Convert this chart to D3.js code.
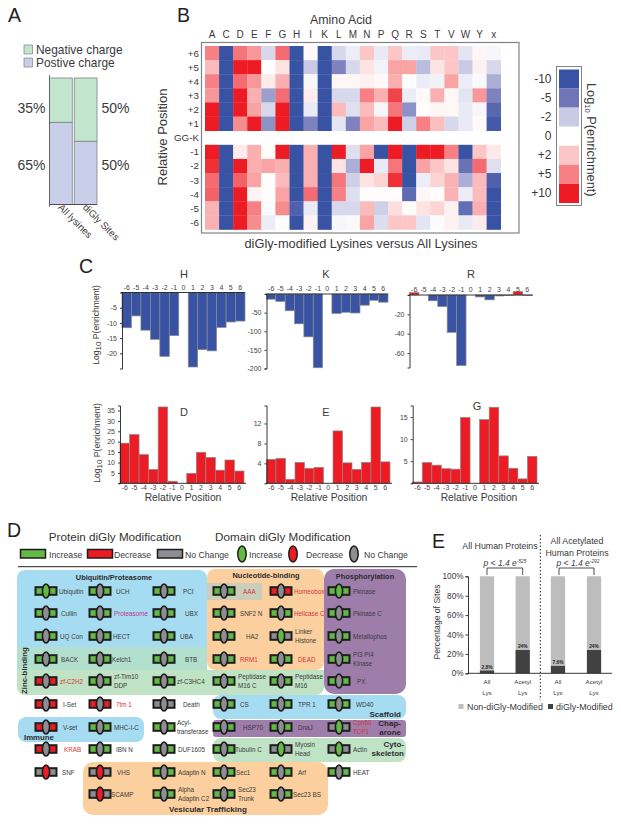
<!DOCTYPE html>
<html><head><meta charset="utf-8">
<script src="https://cdn.jsdelivr.net/npm/d3@7/dist/d3.min.js"></script>
<style>html,body{margin:0;padding:0;background:#fff}svg{display:block}text{font-family:"Liberation Sans",Arial,sans-serif;fill:#3a3a3c}</style>
</head><body><svg id="c" width="621" height="824"></svg>
<script>
// ---------- Panel A data
const chargeCategories = ["All lysines", "diGly Sites"];
const chargePositive = [65, 50];
const chargeNegative = [35, 50];
// ---------- Panel B data
const aminoAcids = ["A","C","D","E","F","G","H","I","K","L","M","N","P","Q","R","S","T","V","W","Y","x"];
const positions = ["+6","+5","+4","+3","+2","+1","GG-K","-1","-2","-3","-4","-5","-6"];
const rowP6 = [5,-10,5.5,4,-1.5,6,-10,.2,-10,-1.5,-.7,2,-.8,2,-.7,-.8,2,2,-1,.3,-.3];
const rowP5 = [2.5,-10,10,10,0,1,-10,-2,-10,-4.5,-1.5,1,-.5,3.5,3.5,-2.5,1,2,-2,.5,-1.5];
const rowP4 = [5,-10,6,4,.7,3,-10,-.3,-10,.3,.3,.5,.2,3,.1,-.7,-.5,3.5,-.7,-.2,-3];
const rowP3 = [4,-10,10,3,-3.5,6,-10,.7,-10,-1.5,-1.5,5,3,8,-.7,.2,3,.3,-1,4,-4.5];
const rowP2 = [10,-10,10,3.5,-1.5,10,-10,-.8,-10,2.5,-1.2,2.5,-.3,5.5,-4,.1,.3,.3,-.8,-.3,-7];
const rowP1 = [10,-10,4.5,10,-4,10,-10,-4.5,-10,-1,-4.5,3.5,2.5,10,-1.8,5,2.3,-1.5,-.8,.2,-9];
const rowM1 = [10,-10,.7,3,.1,10,-10,3,-10,10,-1.2,3.5,-10,10,-10,10,10,5,-10,2,.8];
const rowM2 = [9,-10,10,3,3.5,3,-10,3,-10,1,-3,10,-.8,5.5,-10,3.5,2,1,-5.5,6,-1.2];
const rowM3 = [6,-10,6.5,3.5,.1,2.5,-10,3,-10,5.5,-1.8,1,1.5,9,-10,-.7,1.5,2.8,-3,2.5,-8];
const rowM4 = [6.5,-10,10,.4,.1,3.5,-10,6,-10,5,-1.2,.1,.1,.1,-6.5,.3,.1,2.8,-.7,2.5,-10];
const rowM5 = [2.8,-10,10,5,-.2,4.5,-8,-.8,-10,-1.5,-1.5,2.5,-1.8,1.2,.1,1,1.5,.5,-6,3,-10];
const rowM6 = [3,-10,10,4.5,-.7,.1,-10,.5,-10,-.3,-.2,3.5,-1.3,2,2,-1,-.1,.5,-.8,.7,-10];
const heatRows = {"+6":rowP6,"+5":rowP5,"+4":rowP4,"+3":rowP3,"+2":rowP2,"+1":rowP1,"-1":rowM1,"-2":rowM2,"-3":rowM3,"-4":rowM4,"-5":rowM5,"-6":rowM6};
const scaleLabels = ["-10","-5","-2","0","+2","+5","+10"];
const scaleValues = [-10,-5,-2,0,2,5,10];
const scaleColors = ["#3953a4","#6f75b7","#c9cbe5","#ffffff","#fcc6c6","#f68084","#ed1c24"];
// ---------- Panel C data
const relPos = ["-6","-5","-4","-3","-2","-1","0","1","2","3","4","5","6"];
const histidine = [-11.6,-7.7,-12.4,-15.4,-21,-14.2,0,-24.5,-18.8,-19.2,-11.5,-9.7,-9.4];
const lysine = [-14,-20,-45,-80,-115,-198,0,-52,-49,-51,-30,-17,-22];
const arginine = [2.5,0,-6,-12,-38.6,-73,0,-2,-5,-1,-.5,3.5,-.5];
const aspartate = [19.3,23.4,13.8,6.7,36.7,1,0,4.8,14.9,12.4,6.3,11.2,5.9];
const glutamate = [4.8,5,.8,4.2,3,3.2,0,10.5,4.1,2.8,4.2,15.3,4.3];
const glycine = [.3,4.7,4.1,3.3,3.2,14.9,0,14.4,17.2,6.2,3.4,1,6.1];
// ---------- Panel D data
const domainNames = [
 ["Ubiquitin","UCH","PCI","AAA","Homeobox","Pkinase"],
 ["Cullin","Proteasome","UBX","SNF2 N","Helicase C","Pkinase C"],
 ["UQ Con","HECT","UBA","HA2","Linker\nHistone","Metallophos"],
 ["BACK","Kelch1","BTB","RRM1","DEAD","PI3 PI4\nKinase"],
 ["zf-C2H2","zf-Tim10\nDDP","zf-C3HC4","Peptidase\nM16 C","Peptidase\nM16","PX"],
 ["I-Set","7tm 1","Death","CS","TPR 1","WD40"],
 ["V-set","MHC-I-C","Acyl-\ntransferase","HSP70","DnaJ","Cpn60\nTCP1"],
 ["KRAB","IBN N","DUF1605","Tubulin C","Myosin\nHead","Actin"],
 ["SNF","VHS","Adaptin N","Sec1","Arf","HEAT"],
 ["","SCAMP","Alpha\nAdaptin C2","Sec23\nTrunk","Sec23 BS",""]];
const proteinChange = ["iiiidi","iiiiii","iiiini","iiiiii","diiiii","ddniii","diiiin","diiinn","nniiii","-niii-"];
const domainChange  = ["innnni","nnnnnn","nnnnin","nnnnnn","nnnnnn","nnnnnn","nnnnni","nnnnii","ddnnnn","-dnnn-"];
const accentLabels = ["AAA","Homeobox","Helicase C","RRM1","DEAD","zf-C2H2","7tm 1","KRAB","Cpn60\nTCP1","Proteasome"];
// ---------- Panel E data
const lysGroups = ["All\nLys","Acetyl\nLys","All\nLys","Acetyl\nLys"];
const diglyPct = [2.8,24,7.6,24];
const diglyLabels = ["2.8%","24%","7.6%","24%"];
const pExponents = ["-525","-292"];

const svg = d3.select("#c");
const T = (g,x,y,s,size,o={}) => {
  const t = g.append("text").attr("x",x).attr("y",y).attr("font-size",size).text(s);
  if(o.anchor) t.attr("text-anchor",o.anchor);
  if(o.weight) t.attr("font-weight",o.weight);
  if(o.style) t.attr("font-style",o.style);
  if(o.fill) t.style("fill",o.fill);
  if(o.rot!==undefined) t.attr("transform",`rotate(${o.rot} ${x} ${y})`);
  return t;
};
// panel letters
[["A",8,21.5],["B",177,22],["C",79,273],["D",7,537],["E",432,548]].forEach(d=>T(svg,d[1],d[2],d[0],19.5,{fill:"#222"}));

// ============ A
(function(){
  const g = svg.append("g");
  const y = d3.scaleLinear().domain([0,100]).range([204.5,78]);
  const x = d3.scaleBand().domain(chargeCategories).range([49.5,97]).paddingInner(.08);
  const gr="#c1e5cd", li="#c9cee9", st="#7f8285";
  [[24,45,gr,"Negative charge"],[24,58,li,"Postive charge"]].forEach(d=>{
    g.append("rect").attr("x",d[0]).attr("y",d[1]).attr("width",8.5).attr("height",9).attr("fill",d[2]).attr("stroke",st).attr("stroke-width",.7);
    T(g,36,d[1]+8.5,d[3],11.9);
  });
  chargeCategories.forEach((c,i)=>{
    g.append("rect").attr("x",x(c)).attr("y",y(chargePositive[i])).attr("width",x.bandwidth()).attr("height",y(0)-y(chargePositive[i])).attr("fill",li).attr("stroke",st).attr("stroke-width",.8);
    g.append("rect").attr("x",x(c)).attr("y",y(100)).attr("width",x.bandwidth()).attr("height",y(chargePositive[i])-y(100)).attr("fill",gr).attr("stroke",st).attr("stroke-width",.8);
    const px = i? 101.5:17.5;
    T(g,px,113,chargeNegative[i]+"%",14);
    T(g,px,170,chargePositive[i]+"%",14);
    T(g,x(c)+8,208,c,9.8,{rot:45});
  });
  g.append("line").attr("x1",49).attr("x2",97).attr("y1",y(0)).attr("y2",y(0)).attr("stroke","#444").attr("stroke-width",.9);
  g.append("line").attr("x1",49.5).attr("x2",49.5).attr("y1",75).attr("y2",207).attr("stroke","#555").attr("stroke-width",.8);
})();

// ============ B
(function(){
  const g = svg.append("g");
  const x = d3.scaleBand().domain(aminoAcids).range([205,500.7]);
  const y = d3.scaleBand().domain(positions).range([46,229.5]);
  const color = d3.scaleLinear().domain(scaleValues).range(scaleColors).clamp(true);
  g.append("rect").attr("x",201.5).attr("y",42.5).attr("width",317.5).attr("height",190.5).attr("fill","#fff").attr("stroke","#808285").attr("stroke-width",1.2);
  positions.forEach(p=>{
    if(heatRows[p]) g.selectAll(null).data(heatRows[p]).join("rect")
      .attr("x",(d,i)=>x(aminoAcids[i])).attr("y",y(p)).attr("width",x.bandwidth()+.3).attr("height",y.bandwidth()+.3).attr("fill",d=>color(d));
    T(g,199,y(p)+y.bandwidth()/2+3.5,p,9.8,{anchor:"end"});
  });
  aminoAcids.forEach(a=>T(g,x(a)+x.bandwidth()/2,38,a,10,{anchor:"middle"}));
  T(g,341,24,"Amino Acid",12.4,{anchor:"middle"});
  T(g,167,137,"Relative Position",13,{anchor:"middle",rot:-90});
  T(g,361,248,"diGly-modified Lysines versus All Lysines",12.8,{anchor:"middle"});
  // colour key
  g.append("rect").attr("x",556.5).attr("y",66.5).attr("width",25).attr("height",139).attr("fill","#fff").attr("stroke","#808285").attr("stroke-width",1);
  const ky = d3.scaleBand().domain(scaleLabels).range([69.5,203]);
  scaleLabels.forEach((l,i)=>{
    g.append("rect").attr("x",559).attr("y",ky(l)).attr("width",20).attr("height",ky.bandwidth()).attr("fill",scaleColors[i]);
    T(g,551.5,ky(l)+ky.bandwidth()/2+4,l,12,{anchor:"end"});
  });
  const t = g.append("text").attr("transform","translate(586.5,83) rotate(90)").attr("font-size",12.8);
  t.append("tspan").text("Log");
  t.append("tspan").attr("font-size",7.5).attr("dy",2).text("10");
  t.append("tspan").attr("dy",-2).text(" P(enrichment)");
})();

// ============ C
function barPanel(o){
  const g = svg.append("g");
  const x = d3.scaleBand().domain(relPos).range([o.x0,o.x1]);
  const y = d3.scaleLinear().domain([o.vmin,o.vmax]).range([o.ybot,o.ytop]);
  g.selectAll(null).data(o.values).join("rect")
    .attr("x",(d,i)=>x(relPos[i])).attr("width",x.bandwidth())
    .attr("y",d=>y(Math.max(d,0))).attr("height",d=>Math.abs(y(d)-y(0)))
    .attr("fill",d=>(o.top? (d>0?"#ed1c24":"#3953a4"):"#ed1c24"))
    .attr("stroke",d=>d===0?"none":"#8a8a8a").attr("stroke-width",.7);
  const yAxis = d3.axisLeft(y).tickValues(o.ticks).tickSize(2).tickFormat(d=>d);
  const ya = g.append("g").attr("transform",`translate(${o.x0},0)`).call(yAxis);
  const xAxis = (o.top?d3.axisTop(x):d3.axisBottom(x)).tickSize(0).tickPadding(o.top?3:1.5);
  const xa = g.append("g").attr("transform",`translate(0,${y(0)})`).call(xAxis);
  [ya,xa].forEach(a=>{a.selectAll("text").attr("font-size",7).style("fill","#444");a.selectAll("path,line").attr("stroke","#222").attr("stroke-width",.9);});
  xa.select("path").attr("d",`M${o.x0-1},0H${o.axisEnd}`);
  T(g,o.titleX,o.titleY,o.title,11,{anchor:"middle"});
  if(o.xlabelX) T(g,o.xlabelX,501,"Relative Position",10.3,{anchor:"middle"});
}
function logLabel(x,y){
  const t = svg.append("text").attr("transform",`translate(${x},${y}) rotate(-90)`).attr("font-size",8.6).attr("text-anchor","middle");
  t.append("tspan").text("Log");
  t.append("tspan").attr("font-size",8).attr("dy",1.5).text("10");
  t.append("tspan").attr("dy",-1.5).text(" P(enrichment)");
}
barPanel({values:histidine,x0:122,x1:245,axisEnd:245,vmin:-25,vmax:0,ybot:368.5,ytop:292.5,ticks:[-5,-10,-15,-20],top:true,title:"H",titleX:184,titleY:278});
barPanel({values:lysine,x0:266.5,x1:388,axisEnd:388,vmin:-200,vmax:0,ybot:368.5,ytop:294,ticks:[-50,-100,-150,-200],top:true,title:"K",titleX:326,titleY:278});
barPanel({values:arginine,x0:409.5,x1:532,axisEnd:533,vmin:-75,vmax:0,ybot:367.5,ytop:295,ticks:[-20,-40,-60],top:true,title:"R",titleX:471,titleY:278});
barPanel({values:aspartate,x0:120,x1:244,axisEnd:246,vmin:0,vmax:37.4,ybot:483.3,ytop:405.5,ticks:[5,10,15,20,25,30,35],title:"D",titleX:184,titleY:416,xlabelX:183});
barPanel({values:glutamate,x0:266.5,x1:390,axisEnd:392,vmin:0,vmax:15.6,ybot:483.3,ytop:405.5,ticks:[4,8,12],title:"E",titleX:326,titleY:416,xlabelX:329});
barPanel({values:glycine,x0:412.7,x1:537,axisEnd:539,vmin:0,vmax:17.6,ybot:483.3,ytop:405.5,ticks:[5,10,15],title:"G",titleX:477,titleY:410,xlabelX:479});
logLabel(99,325); logLabel(100,443);

// ============ D
(function(){
  const g = svg.append("g");
  const stateCol = {i:"#62b946",d:"#ed1c24",n:"#8e8e92"};
  const ink="#1d1d1d";
  T(g,115,541,"Protein diGly Modification",11.7,{anchor:"middle",fill:"#333"});
  T(g,283,541,"Domain diGly Modification",11.7,{anchor:"middle",fill:"#333"});
  [[20,"i","Increase",49],[87,"d","Decrease",114],[157,"n","No Change",185]].forEach(d=>{
    g.append("rect").attr("x",d[0]+.5).attr("y",549.5).attr("width",25).attr("height",8.5).attr("fill",stateCol[d[1]]).attr("stroke",ink).attr("stroke-width",1.5);
    T(g,d[3],557.5,d[2],8.7);
  });
  [[242,"i","Increase",249],[293,"d","Decrease",306],[354,"n","No Change",364]].forEach(d=>{
    g.append("ellipse").attr("cx",d[0]).attr("cy",554).attr("rx",4.2).attr("ry",8).attr("fill",stateCol[d[1]]).attr("stroke",ink).attr("stroke-width",1.5);
    T(g,d[3],557.5,d[2],8.7);
  });
  g.append("line").attr("x1",18).attr("x2",417).attr("y1",566.7).attr("y2",566.7).attr("stroke","#222").attr("stroke-width",1);
  // background regions
  const blue="#a6dcf2",orange="#fbd09e",purple="#9e7dab",green="#bfe3c4",teal="#b3dfcf";
  const R=(x,y,w,h,c,r=8)=>g.append("rect").attr("x",x).attr("y",y).attr("width",w).attr("height",h).attr("rx",r).attr("fill",c);
  R(17,570,190,90,blue);
  R(17,647,190,30,teal,0);
  R(17,670,307,25,green,8);
  R(17,670,307,12,green,0);
  R(207,569,117,101,orange,8);
  R(207,583,55,17,"#c9cdb9",0);
  R(324,569,82,125,purple,10);
  R(213,695,193,24,blue,8);
  R(213,720,193,17,purple,3);
  R(213,738,193,24,green,8);
  R(18,717,126,25,blue,8);
  R(83,762,245,53,orange,10);
  const colX = d3.scaleOrdinal().domain(d3.range(6)).range([46,100,164,224,281,339]);
  const rowY = d3.scaleOrdinal().domain(d3.range(10)).range([591,613,636,659,681,704,727,749,772,794]);
  const nudge = {"Ubiquitin":-1,"Cullin":1,"UCH":2,"PCI":5,"UBX":7,"UBA":2,"BTB":7,"AAA":5,"SNF2 N":2,"HA2":8,"RRM1":2,"DEAD":3,"I-Set":3,"7tm 1":2,"Death":5,"V-set":3,"SNF":2,"KRAB":4,"IBN N":2,"Homeobox":-1,"Helicase C":-1,"CS":2,"TPR 1":3,"WD40":3,"HSP70":5,"DnaJ":3,"Arf":3,"Actin":0,"PX":4,"VHS":3,"HECT":-1,"Kelch1":-2,"Sec1":-2,"Tubulin C":-3,"SCAMP":-3,"Sec23 BS":-2,"Acyl-\ntransferase":-1,"Alpha\nAdaptin C2":0,"MHC-I-C":0,"zf-C3HC4":-1,"BACK":1};
  domainNames.forEach((row,r)=>row.forEach((name,c)=>{
    if(!name) return;
    const cx=colX(c), cy=rowY(r), p=proteinChange[r][c], e=domainChange[r][c];
    const ic=g.append("g").attr("transform",`translate(${cx},${cy})`);
    ic.append("rect").attr("x",-10.5).attr("y",-3.8).attr("width",21).attr("height",7.6).attr("fill",stateCol[p]).attr("stroke",ink).attr("stroke-width",2);
    ic.append("ellipse").attr("rx",3.6).attr("ry",7).attr("fill",e==="n"?"#8e8e92":stateCol[e]).attr("stroke",ink).attr("stroke-width",1.7);
    const lines=name.split("\n"), lx=cx+14+(nudge[name]||0);
    const fill=accentLabels.includes(name)?(name==="Proteasome"?"#c2338a":"#d5333e"):"#3a3a3c";
    lines.forEach((s,i)=>T(g,lx,cy+2.5+(lines.length>1?(i?4:-4.5):0),s,6.3,{fill}));
  }));
  const B=(x,y,s,o={})=>T(g,x,y,s,o.size||7.4,Object.assign({weight:"bold",fill:"#2b2b2e"},o));
  B(114,580,"Ubiquitin/Proteasome",{anchor:"middle"});
  B(266,578,"Nucleotide-binding",{anchor:"middle"});
  B(365,579,"Phosphorylation",{anchor:"middle"});
  B(26.5,694,"Zinc-binding",{rot:-90,size:7.8});
  B(24,740,"Immune",{size:7.8});
  B(401,717,"Scaffold",{anchor:"end",size:8});
  B(401,726,"Chap-",{anchor:"end",size:8});
  B(401,735,"arone",{anchor:"end",size:8});
  B(404,747,"Cyto-",{anchor:"end",size:8});
  B(404,756,"skeleton",{anchor:"end",size:8});
  B(169,812,"Vesicular Trafficking",{size:8});
})();

// ============ E
(function(){
  const g = svg.append("g");
  const y = d3.scaleLinear().domain([0,100]).range([673.3,576.3]);
  const xc=[487,522.7,558,594];
  const bw=14.2;
  lysGroups.forEach((c,i)=>{
    g.append("rect").attr("x",xc[i]-bw/2).attr("y",y(100)).attr("width",bw).attr("height",y(0)-y(100)).attr("fill","#bdbdbd");
    g.append("rect").attr("x",xc[i]-bw/2).attr("y",y(diglyPct[i])).attr("width",bw).attr("height",y(0)-y(diglyPct[i])).attr("fill","#414042");
    T(g,xc[i],y(diglyPct[i])-2,diglyLabels[i],4.8,{anchor:"middle",weight:"bold",fill:"#222"});
    c.split("\n").forEach((s,j)=>T(g,xc[i],684+j*11,s,6.2,{anchor:"middle"}));
  });
  const ax=g.append("g").attr("transform","translate(468,0)").call(d3.axisLeft(y).tickValues([0,20,40,60,80,100]).tickFormat(d=>d+"%").tickSize(2.5).tickPadding(2));
  ax.selectAll("text").attr("font-size",8.2).style("fill","#3a3a3c");
  ax.selectAll("path,line").attr("stroke","#222").attr("stroke-width",.9);
  g.append("line").attr("x1",468).attr("x2",612).attr("y1",y(0)).attr("y2",y(0)).attr("stroke","#222").attr("stroke-width",.9);
  g.append("line").attr("x1",540.3).attr("x2",540.3).attr("y1",535).attr("y2",700).attr("stroke","#222").attr("stroke-width",1).attr("stroke-dasharray","1.5 2");
  T(g,440,622,"Percentage of Sites",8.6,{anchor:"middle",rot:-90});
  T(g,500,549,"All Human Proteins",8.8,{anchor:"middle"});
  T(g,577,544,"All Acetylated",8.8,{anchor:"middle"});
  T(g,577,556,"Human Proteins",8.8,{anchor:"middle"});
  [[487,522.7,505],[559,594,578]].forEach((b,i)=>{
    g.append("path").attr("d",`M${b[0]},575V568H${b[1]}V575`).attr("fill","none").attr("stroke","#222").attr("stroke-width",.8);
    const t=g.append("text").attr("x",b[2]).attr("y",566).attr("font-size",8.5).attr("font-style","italic").attr("text-anchor","middle");
    t.append("tspan").text("p < 1.4 e");
    t.append("tspan").attr("font-size",4.8).attr("dy",-3).text(pExponents[i]);
  });
  g.append("rect").attr("x",458.5).attr("y",704).attr("width",5).attr("height",5).attr("fill","#bdbdbd");
  T(g,467,709.5,"Non-diGly-Modified",8.9);
  g.append("rect").attr("x",548).attr("y",704).attr("width",5).attr("height",5).attr("fill","#414042");
  T(g,556,709.5,"diGly-Modified",8.9);
})();
</script></body></html>
